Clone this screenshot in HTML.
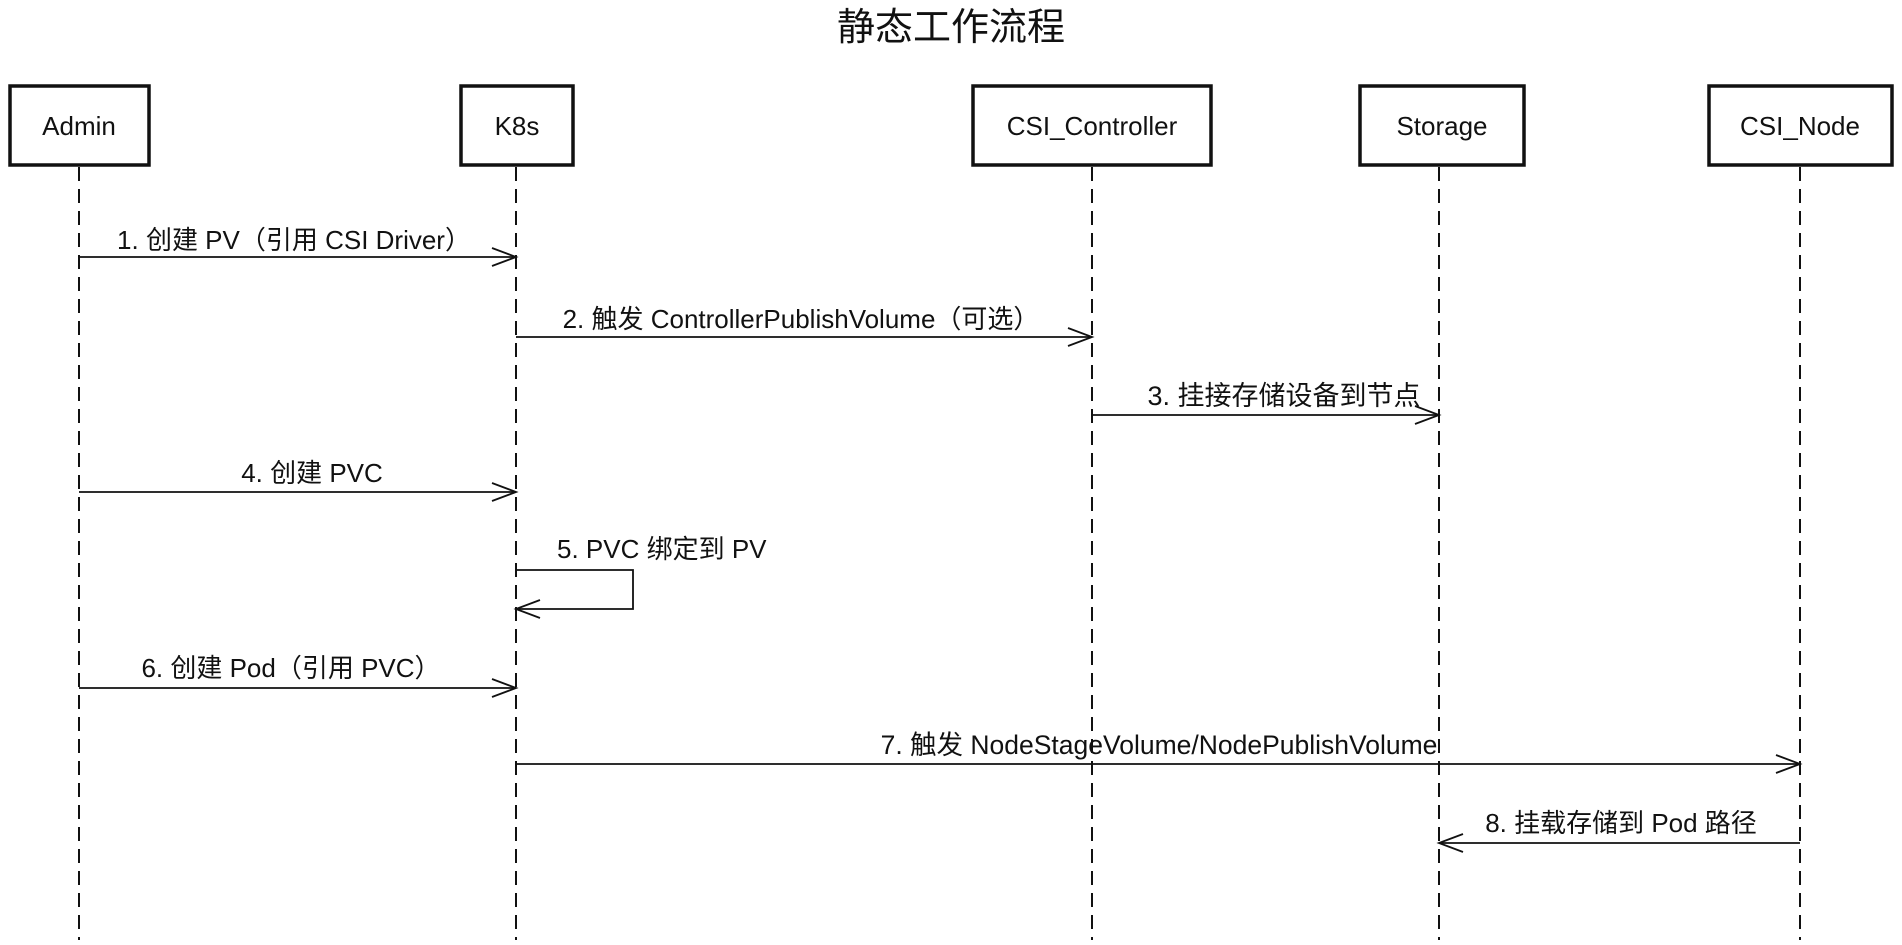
<!DOCTYPE html>
<html><head><meta charset="utf-8"><style>
html,body{margin:0;padding:0;background:#fff;}
svg text{font-family:"Liberation Sans","Noto Sans CJK SC",sans-serif;fill:#111;}
</style></head><body>
<svg width="1902" height="940" viewBox="0 0 1902 940" xmlns="http://www.w3.org/2000/svg">
<text x="951" y="40" font-size="38" text-anchor="middle">静态工作流程</text>
<g fill="none" stroke="#111" stroke-width="3.5">
<rect x="10" y="86" width="139" height="79"/>
<rect x="461" y="86" width="112" height="79"/>
<rect x="973" y="86" width="238" height="79"/>
<rect x="1360" y="86" width="164" height="79"/>
<rect x="1709" y="86" width="183" height="79"/>
</g>
<g font-size="26" text-anchor="middle">
<text x="79" y="135">Admin</text>
<text x="517" y="135">K8s</text>
<text x="1092" y="135">CSI_Controller</text>
<text x="1442" y="135">Storage</text>
<text x="1800" y="135">CSI_Node</text>
</g>
<g stroke="#111" stroke-width="2" stroke-dasharray="14,8">
<line x1="79" y1="167" x2="79" y2="940"/>
<line x1="516" y1="167" x2="516" y2="940"/>
<line x1="1092" y1="167" x2="1092" y2="940"/>
<line x1="1439" y1="167" x2="1439" y2="940"/>
<line x1="1800" y1="167" x2="1800" y2="940"/>
</g>
<g stroke="#111" stroke-width="1.8" fill="none">
<line x1="79" y1="257" x2="516" y2="257"/><polyline points="492,248 516,257 492,266"/>
<line x1="516" y1="337" x2="1092" y2="337"/><polyline points="1068,328 1092,337 1068,346"/>
<line x1="1092" y1="415" x2="1439" y2="415"/><polyline points="1415,406 1439,415 1415,424"/>
<line x1="79" y1="492" x2="516" y2="492"/><polyline points="492,483 516,492 492,501"/>
<polyline points="516,570 633,570 633,609 516,609"/><polyline points="540,600 516,609 540,618"/>
<line x1="79" y1="688" x2="516" y2="688"/><polyline points="492,679 516,688 492,697"/>
<line x1="516" y1="764" x2="1800" y2="764"/><polyline points="1776,755 1800,764 1776,773"/>
<line x1="1800" y1="843" x2="1439" y2="843"/><polyline points="1463,834 1439,843 1463,852"/>
</g>
<g font-size="26" text-anchor="middle">
<text x="294" y="249">1. 创建 PV（引用 CSI Driver）</text>
<text x="801" y="328">2. 触发 ControllerPublishVolume（可选）</text>
<text x="1284" y="405" font-size="27">3. 挂接存储设备到节点</text>
<text x="312" y="482">4. 创建 PVC</text>
<text x="557" y="558" text-anchor="start">5. PVC 绑定到 PV</text>
<text x="291" y="677">6. 创建 Pod（引用 PVC）</text>
<text x="1159" y="754" font-size="26.5">7. 触发 NodeStageVolume/NodePublishVolume</text>
<text x="1621" y="832">8. 挂载存储到 Pod 路径</text>
</g>
</svg>
</body></html>
